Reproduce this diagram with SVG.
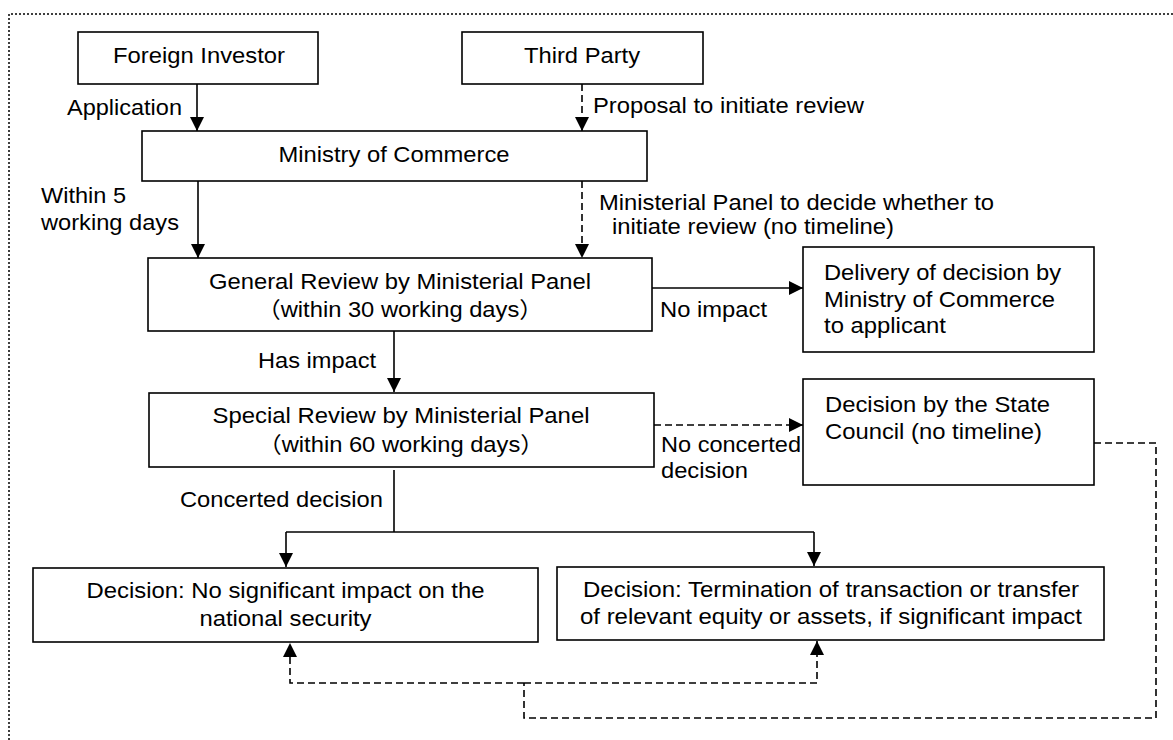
<svg xmlns="http://www.w3.org/2000/svg" width="1173" height="740" viewBox="0 0 1173 740">
<style>
.box{fill:#fff;stroke:#000;stroke-width:1.6}
.ln{fill:none;stroke:#000;stroke-width:1.6}
.dash{fill:none;stroke:#000;stroke-width:1.6;stroke-dasharray:7 4}
.frame{fill:none;stroke:#000;stroke-width:1.5;stroke-dasharray:2 2}
text{font-family:"Liberation Sans",Arial,"Noto Sans CJK SC",sans-serif;font-size:22px;fill:#000}
.c{text-anchor:middle}
</style>
<defs>
<marker id="ah" viewBox="0 0 14 14" refX="14" refY="7" markerWidth="14" markerHeight="14" markerUnits="userSpaceOnUse" orient="auto">
<path d="M0,0 L14,7 L0,14 z" fill="#000"/>
</marker>
</defs>
<rect width="1173" height="740" fill="#fff"/>
<path class="frame" d="M9,740 V14 H1173"/>

<g id="connectors">
<line class="ln" x1="197" y1="84" x2="197" y2="131" marker-end="url(#ah)"/>
<line class="dash" x1="582" y1="84" x2="582" y2="131" marker-end="url(#ah)"/>
<line class="ln" x1="198" y1="181" x2="198" y2="258" marker-end="url(#ah)"/>
<line class="dash" x1="582" y1="181" x2="582" y2="258" marker-end="url(#ah)"/>
<line class="ln" x1="652" y1="288" x2="803" y2="288" marker-end="url(#ah)"/>
<line class="ln" x1="394" y1="331" x2="394" y2="392" marker-end="url(#ah)"/>
<line class="dash" x1="654" y1="425" x2="803" y2="425" marker-end="url(#ah)"/>
<line class="ln" x1="394" y1="470" x2="394" y2="532"/>
<polyline class="ln" points="286,532 814,532"/>
<line class="ln" x1="286" y1="532" x2="286" y2="567" marker-end="url(#ah)"/>
<line class="ln" x1="814" y1="532" x2="814" y2="566" marker-end="url(#ah)"/>
<polyline class="dash" points="1094,443 1156,443 1156,718 524,718 524,683"/>
<polyline class="dash" points="524,683 290,683 290,643" marker-end="url(#ah)"/>
<polyline class="dash" points="524,683 817,683 817,641" marker-end="url(#ah)"/>
<text x="67" y="115" textLength="115" lengthAdjust="spacingAndGlyphs">Application</text>
<text x="593" y="113" textLength="271" lengthAdjust="spacingAndGlyphs">Proposal to initiate review</text>
<text x="41" y="203" textLength="85" lengthAdjust="spacingAndGlyphs">Within 5</text>
<text x="41" y="230" textLength="138" lengthAdjust="spacingAndGlyphs">working days</text>
<text x="599" y="210" textLength="395" lengthAdjust="spacingAndGlyphs">Ministerial Panel to decide whether to</text>
<text x="612" y="234" textLength="282" lengthAdjust="spacingAndGlyphs">initiate review (no timeline)</text>
<text x="660" y="317" textLength="107" lengthAdjust="spacingAndGlyphs">No impact</text>
<text x="258" y="368" textLength="118" lengthAdjust="spacingAndGlyphs">Has impact</text>
<text x="661" y="452" textLength="140" lengthAdjust="spacingAndGlyphs">No concerted</text>
<text x="661" y="478" textLength="87" lengthAdjust="spacingAndGlyphs">decision</text>
<text x="180" y="507" textLength="203" lengthAdjust="spacingAndGlyphs">Concerted decision</text>
</g>

<g id="foreign-investor">
<rect class="box" x="78" y="32" width="240" height="52"/>
<text class="c" x="199" y="63" textLength="172" lengthAdjust="spacingAndGlyphs">Foreign Investor</text>
</g>
<g id="third-party">
<rect class="box" x="462" y="32" width="241" height="52"/>
<text class="c" x="582" y="63" textLength="116" lengthAdjust="spacingAndGlyphs">Third Party</text>
</g>
<g id="ministry">
<rect class="box" x="142" y="131" width="505" height="50"/>
<text class="c" x="394" y="162" textLength="231" lengthAdjust="spacingAndGlyphs">Ministry of Commerce</text>
</g>
<g id="general-review">
<rect class="box" x="148" y="258" width="504" height="73"/>
<text class="c" x="400" y="289" textLength="382" lengthAdjust="spacingAndGlyphs">General Review by Ministerial Panel</text>
<text class="c" x="400" y="317" textLength="286" lengthAdjust="spacingAndGlyphs">（within 30 working days）</text>
</g>
<g id="delivery">
<rect class="box" x="803" y="247" width="291" height="105"/>
<text x="824" y="280" textLength="237" lengthAdjust="spacingAndGlyphs">Delivery of decision by</text>
<text x="824" y="307" textLength="231" lengthAdjust="spacingAndGlyphs">Ministry of Commerce</text>
<text x="824" y="333" textLength="122" lengthAdjust="spacingAndGlyphs">to applicant</text>
</g>
<g id="special-review">
<rect class="box" x="149" y="393" width="505" height="74"/>
<text class="c" x="401" y="423" textLength="377" lengthAdjust="spacingAndGlyphs">Special Review by Ministerial Panel</text>
<text class="c" x="401" y="452" textLength="286" lengthAdjust="spacingAndGlyphs">（within 60 working days）</text>
</g>
<g id="state-council">
<rect class="box" x="803" y="379" width="291" height="106"/>
<text x="825" y="412" textLength="225" lengthAdjust="spacingAndGlyphs">Decision by the State</text>
<text x="825" y="439" textLength="217" lengthAdjust="spacingAndGlyphs">Council (no timeline)</text>
</g>
<g id="no-significant-impact">
<rect class="box" x="33" y="568" width="505" height="74"/>
<text class="c" x="285.5" y="598" textLength="398" lengthAdjust="spacingAndGlyphs">Decision: No significant impact on the</text>
<text class="c" x="285.5" y="626" textLength="172" lengthAdjust="spacingAndGlyphs">national security</text>
</g>
<g id="termination">
<rect class="box" x="557" y="567" width="547" height="73"/>
<text class="c" x="831" y="597" textLength="496" lengthAdjust="spacingAndGlyphs">Decision: Termination of transaction or transfer</text>
<text class="c" x="831" y="624" textLength="502" lengthAdjust="spacingAndGlyphs">of relevant equity or assets, if significant impact</text>
</g>
</svg>
